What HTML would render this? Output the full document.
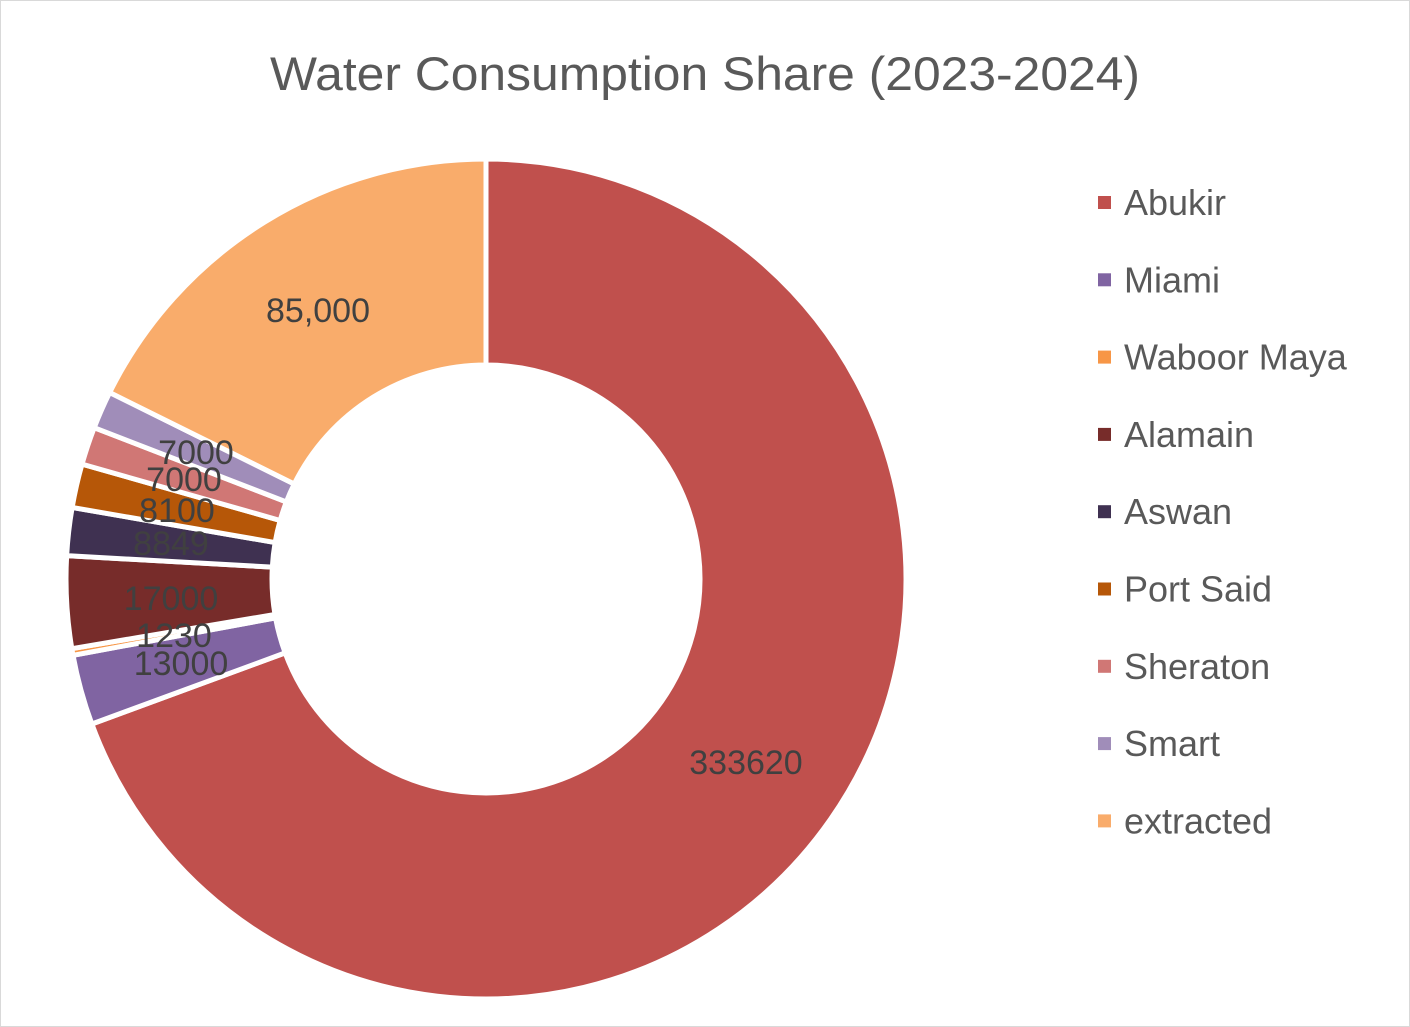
<!DOCTYPE html>
<html><head><meta charset="utf-8"><style>
html,body{margin:0;padding:0;background:#fff}
#c{position:relative;width:1408px;height:1025px;border:1px solid #d9d9d9;font-family:"Liberation Sans",sans-serif;overflow:hidden}
</style></head><body><div id="c">
<svg id="s" width="1408" height="1025" xmlns="http://www.w3.org/2000/svg">
<text x="704" y="89" text-anchor="middle" font-size="47" fill="#595959" textLength="870" lengthAdjust="spacingAndGlyphs" font-family="Liberation Sans, sans-serif">Water Consumption Share (2023-2024)</text>
<g id="slices"></g>
<g font-size="34" fill="#404040" text-anchor="middle" font-family="Liberation Sans, sans-serif">
<text x="317" y="321">85,000</text>
<text x="745" y="773">333620</text>
<text x="180" y="674">13000</text>
<text x="173" y="646">1230</text>
<text x="170" y="609">17000</text>
<text x="170" y="554">8849</text>
<text x="176" y="521">8100</text>
<text x="183" y="490">7000</text>
<text x="195" y="463">7000</text>
</g>
<g id="leg" font-size="36" fill="#595959" font-family="Liberation Sans, sans-serif"></g>
</svg></div>
<script>
var d=[["Abukir",333620,"#C0504D"],["Miami",13000,"#8064A2"],["Waboor Maya",1230,"#F79646"],["Alamain",17000,"#772C2A"],["Aswan",8849,"#3F3151"],["Port Said",8100,"#B65708"],["Sheraton",7000,"#D07775"],["Smart",7000,"#A08DB9"],["extracted",85000,"#F9AC6B"]];
var tot=0;d.forEach(function(x){tot+=x[1]});
var cx=485,cy=578,R=420,r=214,a=0,ns="http://www.w3.org/2000/svg",g=document.getElementById("slices"),L=document.getElementById("leg");
function pt(rad,ang){return [cx+rad*Math.sin(ang),cy-rad*Math.cos(ang)]}
d.forEach(function(x,i){var b=a+x[1]/tot*2*Math.PI;var lg=(b-a)>Math.PI?1:0;
var p1=pt(R,a),p2=pt(R,b),p3=pt(r,b),p4=pt(r,a);
var p=document.createElementNS(ns,"path");
p.setAttribute("d","M"+p1+"A"+R+","+R+" 0 "+lg+" 1 "+p2+"L"+p3+"A"+r+","+r+" 0 "+lg+" 0 "+p4+"Z");
p.setAttribute("fill",x[2]);p.setAttribute("stroke","#fff");p.setAttribute("stroke-width","5");g.appendChild(p);a=b;
var y=202+i*77.3;var q=document.createElementNS(ns,"rect");q.setAttribute("x",1097);q.setAttribute("y",y-7);q.setAttribute("width",13);q.setAttribute("height",13);q.setAttribute("fill",x[2]);L.appendChild(q);
var t=document.createElementNS(ns,"text");t.setAttribute("x",1123);t.setAttribute("y",y+12);t.textContent=x[0];L.appendChild(t);});
</script></body></html>
